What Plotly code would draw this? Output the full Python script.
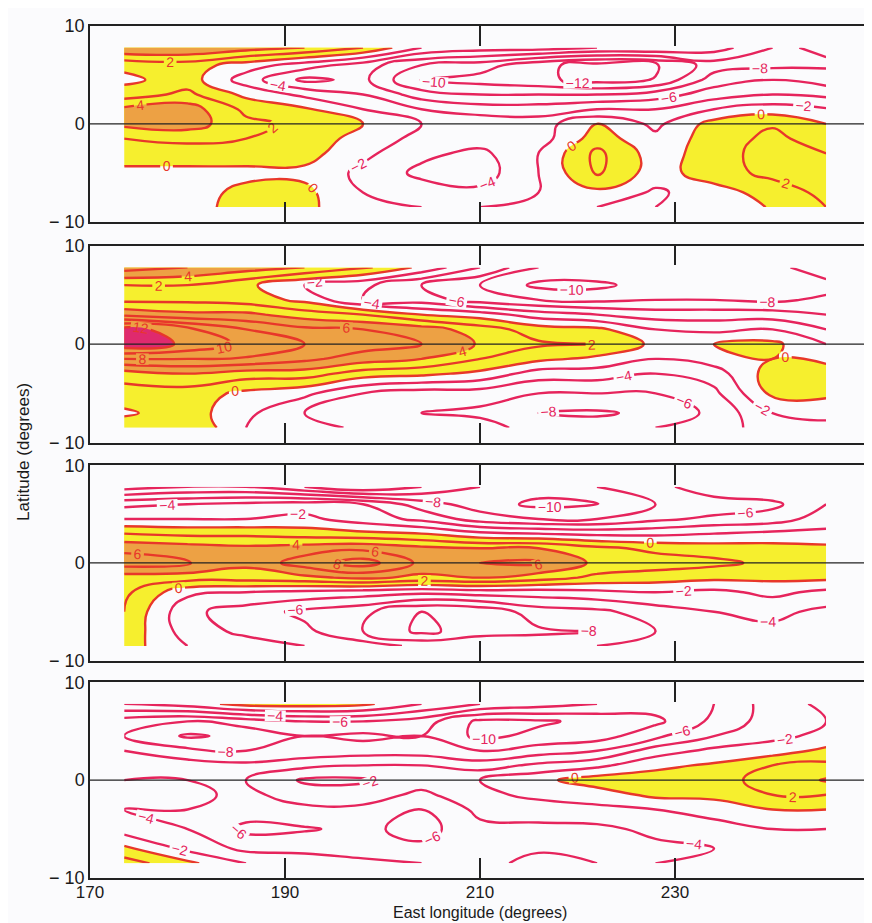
import plotly.graph_objects as go

# ---------------- data ----------------
lon = [173.5, 180, 186, 192, 198, 204, 210, 216, 222, 228, 234, 240, 245.5]
lat = [7.8, 6, 4.5, 3, 1.5, 0, -1.5, -3, -5, -7, -8.5]

panel1 = [
    [6, 6, 5, 4, 2, -2, -3, -3, -4, -4, -5, -8, -12],
    [0.5, 1, -1, -3, -5, -8, -9, -11.5, -12.8, -12.3, -9, -8.5, -8.3],
    [-0.5, 1, -3, -6.5, -5.5, -10.3, -10.8, -11.5, -12.8, -11.9, -7, -6, -7],
    [1, 2.5, -0.5, -2.5, -4, -7, -8, -8, -8, -7, -5, -4, -4.5],
    [4.5, 5, 1.5, 0.3, -2, -4, -5, -5, -4, -4, -2, -1, -1.8],
    [4.5, 5, 2.5, 1.5, 0, -2, -2.5, -3, 0, -2.5, 0.8, 1.8, 0],
    [2, 2.5, 2, 1.5, -1, -2.5, -3, -3, 1, -1.5, 1, 2.5, 1],
    [1, 1, 1, 0.8, -1.5, -3.5, -4.5, -2, 2.5, -1, 1, 3, 2],
    [-0.5, -0.5, -0.5, -0.5, -2.5, -4.5, -5, -2, 2.3, -1, 1.2, 2.5, 2.5],
    [-1, -0.8, 0.5, 0.5, -2, -3, -3.5, -2, -0.5, -2.3, -1, 1, 2.5],
    [-2, -1.5, 1.5, 0.5, -1.5, -2, -2, -1.5, -2, -2, -1.5, 0.2, 2],
]

panel2 = [
    [7, 6, 5, 4, 2.5, -0.5, -4, -8, -8, -8, -8, -9, -12],
    [2, 2, 0.5, -2, -3.5, -6, -8, -10.5, -10.5, -9, -9, -9.8, -9],
    [1.5, 1.5, 1, -0.5, -4, -5, -7, -8, -8.5, -8, -8, -8.5, -7.5],
    [5.5, 4.5, 4.5, 3, 2, 0, -1, -3, -4, -5, -5, -5, -6],
    [13, 10.5, 8, 6.5, 6, 5, 3, 1, 0.5, -2, -2.5, -2, -4],
    [13.5, 11.6, 9.5, 8, 7, 6, 3.8, 2.3, 2, -0.5, 0, 0.5, -2],
    [8, 8, 7.8, 6.5, 5, 4, 2, 0.5, -0.5, -2, -1, 0, -0.5],
    [3, 4, 3, 3, 1, 0.5, -0.5, -3, -3, -4, -3, 1, 1],
    [1, 1, -0.5, -1.5, -4, -5, -5, -6, -6, -6, -4.5, 0.5, 0.5],
    [-0.3, 1, -1.5, -4, -5, -6, -6.5, -8, -8.3, -7.5, -5.5, -2, -1.5],
    [1, 2, -2, -3, -4.5, -4, -5, -7, -7, -6, -5, -3, -2.5],
]

panel3 = [
    [-11, -10, -10, -12, -14, -12, -10, -9, -8, -7, -4, -4, -4],
    [-4.5, -4, -3.5, -3, -4, -7, -9, -10.5, -10.2, -8, -7.5, -6.5, -4],
    [-2, -2, -2, -1.5, -3, -4.5, -7, -8, -8, -6.5, -5.5, -5, -3],
    [2, 1.5, 1.5, 1, 0.5, 0, -1.5, -2, -2.5, -2.5, -2, -1.5, -1.5],
    [5.5, 5, 4.5, 5, 5.5, 4.5, 4, 4, 2.5, 1.5, 1, 0.8, 0.5],
    [7, 6.2, 4.5, 7, 9, 5.5, 6, 6.3, 3.5, 3, 2.5, 1.5, 1.5],
    [3, 3, 3, 3.5, 4.5, 3.5, 4, 3, 1.5, 1, 0.5, 0.5, 0.5],
    [2.5, -1.5, -2, -2.5, -3, -3.5, -3, -3, -2.5, -2, -2.5, -1.5, -2.5],
    [2, -3.5, -5, -6.5, -7.5, -10, -9.5, -7, -6.5, -5, -4, -3.5, -4.5],
    [1.5, -3, -4.5, -5.5, -8, -10.5, -9, -8.3, -8, -6, -4.5, -4.5, -5],
    [1, -2, -3, -4, -5, -6.5, -6, -7, -6, -5, -4, -4, -4.5],
]

panel4 = [
    [-2, -1, 0.8, 1, 0.5, -2, -4, -5, -6, -7, -6, -3, -1.5],
    [-7, -8, -7, -6, -6, -7, -10.5, -10.3, -9.5, -8.5, -5.5, -3, -2],
    [-8, -10.3, -9.5, -8, -8.5, -8, -10.5, -9.5, -9, -6.5, -4, -2.5, -1.5],
    [-6, -7.5, -8, -7.5, -7, -7, -8, -7, -6, -3, -1.5, -1, 0.5],
    [-4.5, -5, -5.5, -4.5, -4, -4, -5, -3.5, -2.5, -0.5, 0.3, 2, 2.5],
    [-4, -4, -4, -1.7, -1.7, -3, -2, -0.5, 1, 1, 1.5, 2.5, 4.2],
    [-3.5, -3.5, -4.5, -3, -3, -4.5, -2.5, -1.5, -1, 0.5, 0.5, 2, 2],
    [-4, -4, -5, -4.5, -4.5, -6, -3.5, -3, -2.5, -2, -1, 0, 0],
    [-3, -4, -6.5, -6.2, -5.5, -6.8, -4.5, -4.5, -4.5, -3.5, -3, -2, -2],
    [0.5, -2.5, -4.5, -4.5, -5, -5.5, -5, -4.2, -5.5, -4.5, -4, -3.5, -2.5],
    [3, 0.5, -2, -3, -3.5, -4, -4.5, -3.5, -4, -4, -3.5, -3, -3],
]

panels = [panel1, panel2, panel3, panel4]

x_tick_vals = [170, 190, 210, 230, 250]
x_tick_text = ["170", "190", "210", "230", "250\u00a0\u00a0\u00a0"]
y_tick_vals = [-10, 0, 10]
y_tick_text = ["\u2212 10", "0", "10"]

# ---------------- style ----------------
BG = "#fbfbfd"
YELLOW = "#f6ef2e"
ORANGE = "#eda144"
MAGENTA = "#df2a6e"
POS_LINE = "#e8372a"
NEG_LINE = "#e6245c"
FONT = "Liberation Sans, Arial, sans-serif"

fill_scale = [
    [0.0, BG], [0.125, BG],
    [0.125, YELLOW], [0.375, YELLOW],
    [0.375, ORANGE], [0.875, ORANGE],
    [0.875, MAGENTA], [1.0, MAGENTA],
]

domains = [[0.7702, 1.0], [0.5111, 0.7421], [0.2551, 0.4845], [0.0, 0.2298]]

fig = go.Figure()
for i, z in enumerate(panels):
    xa = "x" if i == 0 else f"x{i+1}"
    ya = "y" if i == 0 else f"y{i+1}"
    # positive (filled) contours
    fig.add_trace(go.Contour(
        x=lon, y=lat, z=z, xaxis=xa, yaxis=ya,
        colorscale=fill_scale, zmin=-2, zmax=14, showscale=False,
        contours=dict(start=0, end=12, size=2, coloring="fill",
                      showlabels=True,
                      labelfont=dict(size=14, color=POS_LINE, family=FONT)),
        line=dict(color=POS_LINE, width=2.4, smoothing=1.3),
        hoverinfo="skip",
    ))
    # negative contours (lines only)
    fig.add_trace(go.Contour(
        x=lon, y=lat, z=z, xaxis=xa, yaxis=ya, showscale=False,
        contours=dict(start=-20, end=-2, size=2, coloring="none",
                      showlabels=True,
                      labelfont=dict(size=14, color=NEG_LINE, family=FONT)),
        line=dict(color=NEG_LINE, width=2.4, smoothing=1.3),
        hoverinfo="skip",
    ))

layout = dict(
    width=872, height=923,
    margin=dict(l=82, r=8, t=17, b=53),
    paper_bgcolor=BG, plot_bgcolor=BG,
    font=dict(family=FONT, size=18, color="#1a1a1a"),
    showlegend=False,
)
shapes = []
for i in range(4):
    sx = "" if i == 0 else str(i + 1)
    layout["xaxis" + sx] = dict(
        domain=[0, 1], range=[170, 250], anchor="y" + sx,
        tickvals=x_tick_vals, ticktext=x_tick_text,
        ticks="inside", ticklen=20, tickwidth=1.5, tickcolor="#222",
        showline=True, linecolor="#222", linewidth=1.5, mirror="ticks",
        showgrid=False, zeroline=False,
        showticklabels=(i == 3), tickfont=dict(size=17),
        ticklabelstandoff=-2,
    )
    layout["yaxis" + sx] = dict(
        domain=domains[i], range=[-10, 10], anchor="x" + sx,
        tickvals=y_tick_vals, ticktext=y_tick_text, ticks="",
        showline=True, linecolor="#222", linewidth=1.5, mirror=True,
        showgrid=False, zeroline=False, tickfont=dict(size=18),
    )
    shapes.append(dict(type="line", xref="x" + sx, yref="y" + sx,
                       x0=170, x1=250, y0=0, y1=0, layer="above",
                       line=dict(color="#222", width=1.3)))
layout["shapes"] = shapes
layout["annotations"] = [
    dict(text="Latitude (degrees)", xref="paper", yref="paper",
         x=-0.086, y=0.5, textangle=-90, showarrow=False,
         xanchor="center", yanchor="middle", font=dict(size=17)),
    dict(text="East longitude (degrees)", xref="paper", yref="paper",
         x=0.5, y=-0.0405, showarrow=False,
         xanchor="center", yanchor="middle", font=dict(size=16)),
]
fig.update_layout(**layout)
fig.write_html("out.html")
